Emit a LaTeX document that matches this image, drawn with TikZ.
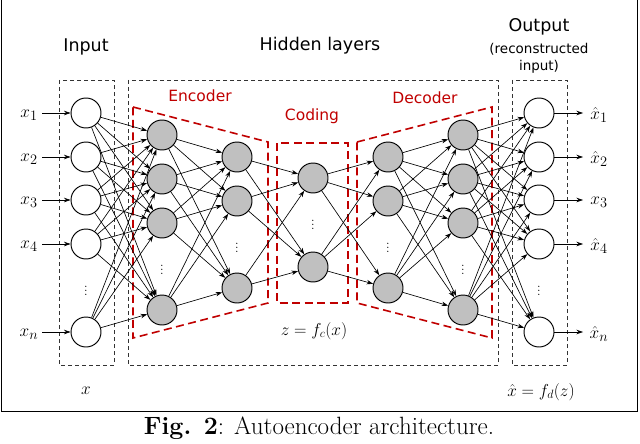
\documentclass[tikz,border=0pt]{standalone}
\usepackage{fontspec}
\newfontfamily\labfont{DejaVu Sans}
\usetikzlibrary{arrows.meta}
\definecolor{encred}{RGB}{192,0,0}
\definecolor{hidgray}{RGB}{192,192,192}
\tikzset{
  neuron/.style={circle,draw=black,line width=0.95pt,minimum size=30pt,inner sep=0pt},
  hid/.style={neuron,fill=hidgray},
  io/.style={neuron,fill=white},
  conn/.style={line width=0.65pt,-{Stealth[length=6.5pt,width=4.5pt]}},
  iobox/.style={draw=black!80,dashed,dash pattern=on 4pt off 3pt,line width=0.9pt},
  redbox/.style={draw=encred,dash pattern=on 8pt off 4.5pt,line width=1.6pt},
  title/.style={font=\labfont\fontsize{17.5}{20}\selectfont,inner sep=0pt},
  subtitle/.style={font=\labfont\fontsize{13.5}{16}\selectfont,inner sep=0pt},
  redlab/.style={font=\labfont\fontsize{15.5}{18}\selectfont,text=encred,inner sep=0pt},
  mlab/.style={font=\fontsize{17}{20}\selectfont,inner sep=0pt},
  xlab/.style={font=\fontsize{19}{22}\selectfont,inner sep=0pt},
  dotlab/.style={font=\fontsize{13}{15}\selectfont,inner sep=0pt}
}
\begin{document}
\begin{tikzpicture}[x=1pt,y=-1pt]
\useasboundingbox (0,0) rectangle (640,444);
% frame
\draw[line width=1.4pt] (1.5,-3) -- (1.5,411.5) -- (637.5,411.5) -- (637.5,-3);
% dashed boxes
\draw[iobox] (59,80) rectangle (114,365);
\draw[iobox] (128,80) rectangle (498,365);
\draw[iobox] (512,80) rectangle (567,365);
% red regions
\draw[redbox] (133,107) -- (268,142) -- (268,303) -- (133,338) -- cycle;
\draw[redbox] (277,143) rectangle (348,303);
\draw[redbox] (357,142) -- (492,107) -- (492,338) -- (357,303) -- cycle;
% titles
\node[title] (tin) at (86,47) {Input};
\node[title] (thid) at (320,46) {Hidden layers};
\node[title] (tout) at (539,27) {Output};
\node[subtitle] (trec) at (539,49) {(reconstructed};
\node[subtitle] (tinp) at (539,67) {input)};
\node[redlab] (lenc) at (200,96) {Encoder};
\node[redlab] (lcod) at (312,116) {Coding};
\node[redlab] (ldec) at (425,98) {Decoder};
% input layer
\node[io] (i1) at (86,113) {};
\node[io] (i2) at (86,157) {};
\node[io] (i3) at (86,200) {};
\node[io] (i4) at (86,244) {};
\node[io] (in) at (86,332) {};
\node[dotlab] (di) at (86,288) {$\vdots$};
% encoder 1
\node[hid] (a1) at (162,135) {};
\node[hid] (a2) at (162,179) {};
\node[hid] (a3) at (162,223) {};
\node[hid] (a4) at (162,310) {};
\node[dotlab] (da) at (162,267) {$\vdots$};
% encoder 2
\node[hid] (b1) at (237,157) {};
\node[hid] (b2) at (237,201) {};
\node[hid] (b3) at (237,288) {};
\node[dotlab] (db) at (237,245) {$\vdots$};
% coding
\node[hid] (c1) at (313,178) {};
\node[hid] (c2) at (313,267) {};
\node[dotlab] (dc) at (313,222) {$\vdots$};
% decoder 1
\node[hid] (d1) at (388,157) {};
\node[hid] (d2) at (388,201) {};
\node[hid] (d3) at (388,288) {};
\node[dotlab] (dd) at (388,245) {$\vdots$};
% decoder 2
\node[hid] (e1) at (463,135) {};
\node[hid] (e2) at (463,179) {};
\node[hid] (e3) at (463,223) {};
\node[hid] (e4) at (463,310) {};
\node[dotlab] (de) at (463,267) {$\vdots$};
% output
\node[io] (o1) at (539,113) {};
\node[io] (o2) at (539,157) {};
\node[io] (o3) at (539,200) {};
\node[io] (o4) at (539,244) {};
\node[io] (on) at (539,332) {};
\node[dotlab] (dout) at (539,288) {$\vdots$};
% connections
\foreach \s in {i1,i2,i3,i4,in} \foreach \t in {a1,a2,a3,a4} \draw[conn] (\s) -- (\t);
\foreach \s in {a1,a2,a3,a4} \foreach \t in {b1,b2,b3} \draw[conn] (\s) -- (\t);
\foreach \s in {b1,b2,b3} \foreach \t in {c1,c2} \draw[conn] (\s) -- (\t);
\foreach \s in {c1,c2} \foreach \t in {d1,d2,d3} \draw[conn] (\s) -- (\t);
\foreach \s in {d1,d2,d3} \foreach \t in {e1,e2,e3,e4} \draw[conn] (\s) -- (\t);
\foreach \s in {e1,e2,e3,e4} \foreach \t in {o1,o2,o3,o4,on} \draw[conn] (\s) -- (\t);
% input labels and arrows
\foreach \n/\y/\lab in {i1/113/1,i2/157/2,i3/200/3,i4/244/4,in/332/n}{
  \node[xlab] (lx\n) at (29,\y+2) {$x_{\lab}$};
  \coordinate (sx\n) at (42,\y);
  \draw[conn] (sx\n) -- (\n);
}
% output labels and arrows
\foreach \n/\y/\lab in {o1/113/1,o2/157/2,o4/244/4,on/332/n}{
  \node[xlab] (lx\n) at (599,\y+2) {$\hat{x}_{\lab}$};
  \coordinate (ex\n) at (583,\y);
  \draw[conn] (\n) -- (ex\n);
}
\node[xlab] (lxo3) at (599,202) {$x_{3}$};
\coordinate (exo3) at (583,200);
\draw[conn] (o3) -- (exo3);
% formulas
\node[mlab] (fz) at (314,331) {$z=f_c(x)$};
\node[mlab] (fx) at (86,391) {$x$};
\node[mlab] (fxh) at (541,392) {$\hat{x}=f_d(z)$};
% caption
\node[font=\fontsize{25}{30}\selectfont,inner sep=0pt] (cap) at (319,428) {\textbf{Fig. 2}: Autoencoder architecture.};
\end{tikzpicture}
\end{document}
